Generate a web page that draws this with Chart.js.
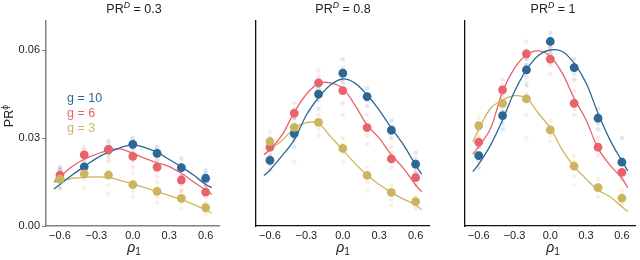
<!DOCTYPE html>
<html>
<head>
<meta charset="utf-8">
<script src="https://cdn.jsdelivr.net/npm/chart.js@4.4.1/dist/chart.umd.min.js"></script>
<style>
  html, body { margin: 0; padding: 0; background: #fff; }
  #wrap { position: relative; width: 640px; height: 260px; overflow: hidden; font-family: "Liberation Sans", Arial, sans-serif; color: #222; }
  canvas { position: absolute; top: 0; }
  .t { position: absolute; white-space: nowrap; line-height: 1; }
  .title { font-size: 12.5px; transform: translate(-50%, -50%); }
  .sup { font-size: 0.7em; position: relative; top: -0.55em; }
  .xl { font-size: 14px; transform: translate(-50%, -50%); }
  .sub { font-size: 0.72em; position: relative; top: 0.3em; }
  .leg { font-size: 12.5px; transform: translate(0, -50%); }
</style>
</head>
<body>
<div id="wrap">
  <canvas id="c1" width="224" height="260" style="left:0px"></canvas>
  <canvas id="c2" width="188" height="260" style="left:246px"></canvas>
  <canvas id="c3" width="185" height="260" style="left:455px"></canvas>

  <div class="t title" style="left:134px;top:9px">PR<span class="sup"><i>D</i></span> = 0.3</div>
  <div class="t title" style="left:343px;top:9px">PR<span class="sup"><i>D</i></span> = 0.8</div>
  <div class="t title" style="left:553px;top:9px">PR<span class="sup"><i>D</i></span> = 1</div>

  <div class="t" style="left:9px;top:116px;font-size:12.5px;transform:translate(-50%,-50%) rotate(-90deg)">PR<span class="sup">ϕ</span></div>

  <div class="t xl" style="left:134px;top:247px"><i>ρ</i><span class="sub">1</span></div>
  <div class="t xl" style="left:343px;top:247px"><i>ρ</i><span class="sub">1</span></div>
  <div class="t xl" style="left:553px;top:247px"><i>ρ</i><span class="sub">1</span></div>

  <div class="t leg" style="left:67px;top:98px;color:#2c6796">g = 10</div>
  <div class="t leg" style="left:67px;top:113px;color:#e8636b">g = 6</div>
  <div class="t leg" style="left:67px;top:128px;color:#cdb560">g = 3</div>
</div>
<script>
// ---------- data ----------
const xCats = [-0.6, -0.4, -0.2, 0, 0.2, 0.4, 0.6];
const xTickVals = [-0.6, -0.3, 0, 0.3, 0.6];
const yTickVals = [0, 0.03, 0.06];
const lineX = [-0.65, -0.6, -0.5, -0.4, -0.3, -0.2, -0.1, 0, 0.1, 0.2, 0.3, 0.4, 0.5, 0.6, 0.65];
const seriesNames = ["g = 10", "g = 6", "g = 3"];

// Panel 1: PR^D = 0.3
const p1MeanG10 = [0.0162, 0.0202, 0.0261, 0.0279, 0.0248, 0.0199, 0.0163];
const p1MeanG6  = [0.0174, 0.0243, 0.0261, 0.0238, 0.0201, 0.0157, 0.0116];
const p1MeanG3  = [0.0160, 0.0178, 0.0174, 0.0141, 0.0118, 0.0094, 0.0063];
const p1LineG10 = [0.0126, 0.0142, 0.0174, 0.0203, 0.0231, 0.0252, 0.0268, 0.0277, 0.0268, 0.0252, 0.0227, 0.0202, 0.0174, 0.0142, 0.0131];
const p1LineG6  = [0.0151, 0.0168, 0.0203, 0.0228, 0.0245, 0.0259, 0.0263, 0.0248, 0.0231, 0.0216, 0.0203, 0.0180, 0.0151, 0.0123, 0.0108];
const p1LineG3  = [0.0149, 0.0154, 0.0163, 0.0166, 0.0168, 0.0166, 0.0155, 0.0144, 0.0131, 0.0117, 0.0104, 0.0090, 0.0074, 0.0055, 0.0044];
const p1RepG10 = [[0.013,0.015,0.017,0.019,0.020],[0.017,0.019,0.021,0.022],[0.024,0.025,0.027,0.029],[0.026,0.027,0.029,0.030],[0.022,0.024,0.026,0.027],[0.017,0.019,0.021,0.023],[0.014,0.016,0.018,0.019]];
const p1RepG6  = [[0.015,0.017,0.019,0.020],[0.020,0.023,0.026,0.027],[0.022,0.025,0.027,0.028],[0.020,0.022,0.025,0.027],[0.017,0.019,0.021,0.023],[0.012,0.014,0.017,0.019],[0.010,0.011,0.013,0.014]];
const p1RepG3  = [[0.013,0.015,0.017,0.018],[0.013,0.016,0.019,0.020],[0.011,0.014,0.019,0.023],[0.010,0.012,0.015,0.018],[0.008,0.010,0.013,0.015],[0.006,0.008,0.010,0.012],[0.004,0.005,0.007,0.008]];

// Panel 2: PR^D = 0.8
const p2MeanG10 = [0.0224, 0.0315, 0.0450, 0.0522, 0.0442, 0.0327, 0.0211];
const p2MeanG6  = [0.0269, 0.0385, 0.0489, 0.0462, 0.0336, 0.0229, 0.0165];
const p2MeanG3  = [0.0288, 0.0337, 0.0354, 0.0265, 0.0173, 0.0115, 0.0083];
const p2LineG10 = [0.0172, 0.0191, 0.0240, 0.0294, 0.0379, 0.0438, 0.0482, 0.0502, 0.0488, 0.0448, 0.0396, 0.0334, 0.0277, 0.0208, 0.0177];
const p2LineG6  = [0.0243, 0.0260, 0.0311, 0.0388, 0.0450, 0.0486, 0.0489, 0.0470, 0.0413, 0.0345, 0.0300, 0.0243, 0.0197, 0.0140, 0.0117];
const p2LineG3  = [0.0243, 0.0262, 0.0292, 0.0334, 0.0353, 0.0350, 0.0305, 0.0260, 0.0214, 0.0174, 0.0142, 0.0115, 0.0092, 0.0072, 0.0055];
const p2RepG10 = [[0.019,0.021,0.024,0.026],[0.027,0.030,0.034,0.037],[0.040,0.043,0.047,0.048],[0.049,0.051,0.054,0.057],[0.041,0.043,0.045,0.047],[0.030,0.032,0.034,0.036],[0.018,0.020,0.023,0.025]];
const p2RepG6  = [[0.024,0.026,0.028,0.030],[0.034,0.037,0.040,0.042],[0.046,0.048,0.051,0.053],[0.038,0.042,0.046,0.050],[0.028,0.031,0.034,0.038],[0.020,0.022,0.025,0.027],[0.014,0.016,0.018,0.019]];
const p2RepG3  = [[0.026,0.028,0.030,0.032],[0.022,0.029,0.033,0.036],[0.031,0.033,0.036,0.038],[0.022,0.025,0.028,0.030],[0.012,0.015,0.018,0.020],[0.007,0.009,0.012,0.014],[0.006,0.007,0.009,0.010]];

// Panel 3: PR^D = 1
const p3MeanG10 = [0.0240, 0.0377, 0.0533, 0.0630, 0.0541, 0.0368, 0.0218];
const p3MeanG6  = [0.0286, 0.0465, 0.0588, 0.0570, 0.0419, 0.0269, 0.0183];
const p3MeanG3  = [0.0343, 0.0419, 0.0434, 0.0328, 0.0204, 0.0131, 0.0095];
const p3LineG10 = [0.0186, 0.0211, 0.0277, 0.0362, 0.0459, 0.0533, 0.0582, 0.0601, 0.0596, 0.0556, 0.0488, 0.0385, 0.0294, 0.0222, 0.0188];
const p3LineG6  = [0.0245, 0.0271, 0.0334, 0.0459, 0.0539, 0.0584, 0.0598, 0.0579, 0.0522, 0.0436, 0.0362, 0.0265, 0.0208, 0.0163, 0.0131];
const p3LineG3  = [0.0288, 0.0330, 0.0402, 0.0430, 0.0445, 0.0436, 0.0385, 0.0334, 0.0260, 0.0203, 0.0161, 0.0123, 0.0100, 0.0066, 0.0049];
const p3RepG10 = [[0.020,0.022,0.025,0.027],[0.033,0.035,0.039,0.042],[0.048,0.051,0.055,0.057],[0.059,0.061,0.064,0.066],[0.050,0.052,0.055,0.057],[0.033,0.035,0.038,0.040],[0.019,0.021,0.023,0.030]];
const p3RepG6  = [[0.025,0.027,0.030,0.033],[0.042,0.045,0.048,0.050],[0.055,0.057,0.060,0.063],[0.052,0.055,0.059,0.061],[0.038,0.040,0.043,0.046],[0.024,0.026,0.028,0.030],[0.016,0.018,0.019,0.021]];
const p3RepG3  = [[0.031,0.033,0.035,0.037],[0.036,0.040,0.044,0.047],[0.030,0.038,0.045,0.049],[0.029,0.031,0.034,0.036],[0.014,0.017,0.022,0.024],[0.010,0.012,0.014,0.016],[0.007,0.008,0.010,0.012]];

// ---------- styling ----------
const COLORS = ["#2c6796", "#e8636b", "#cdb560"];
const FAINT  = ["rgba(44,103,150,0.15)", "rgba(232,99,107,0.15)", "rgba(205,181,96,0.17)"];
const FONT = { family: "'Liberation Sans', Arial, sans-serif", size: 11 };

function fmtX(v) {
  const s = Math.abs(v).toFixed(1);
  return v < -1e-9 ? "\u2212" + s : s;
}

function buildPanel(id, means, lines, reps, cfg) {
  const datasets = [];
  reps.forEach((rep, si) => {
    const pts = [];
    rep.forEach((vals, xi) => vals.forEach(v => pts.push({ x: xCats[xi], y: v })));
    datasets.push({ type: 'scatter', label: seriesNames[si] + " reps", data: pts,
      pointRadius: 2.3, pointBackgroundColor: FAINT[si], pointBorderWidth: 0, order: 30 + si });
  });
  lines.forEach((ln, si) => {
    datasets.push({ type: 'line', label: seriesNames[si] + " line",
      data: lineX.map((x, i) => ({ x: x, y: ln[i] })),
      borderColor: COLORS[si], borderWidth: 1.3, pointRadius: 0, tension: 0.35,
      fill: false, order: 20 + si });
  });
  means.forEach((m, si) => {
    datasets.push({ type: 'scatter', label: seriesNames[si],
      data: xCats.map((x, i) => ({ x: x, y: m[i] })),
      pointRadius: 4.4, pointBackgroundColor: COLORS[si], pointBorderWidth: 0, order: 12 - si });
  });

  new Chart(document.getElementById(id), {
    type: 'scatter',
    data: { datasets },
    options: {
      responsive: false, animation: false,
      layout: { padding: { top: 21, right: cfg.padRight, left: 0, bottom: 0 } },
      plugins: { legend: { display: false }, tooltip: { enabled: false } },
      scales: {
        x: {
          type: 'linear', min: -0.715, max: 0.715,
          afterBuildTicks: s => { s.ticks = xTickVals.map(v => ({ value: v })); },
          ticks: { callback: v => fmtX(v), font: FONT, color: '#222', padding: 3, maxRotation: 0, autoSkip: false },
          grid: { display: false, drawTicks: false },
          border: { display: true, color: cfg.axisColor, width: cfg.axisWidth },
          afterFit: s => { s.height = 34; }
        },
        y: {
          type: 'linear', min: 0, max: 0.07,
          afterBuildTicks: s => { s.ticks = yTickVals.map(v => ({ value: v })); },
          ticks: { display: cfg.yLabels, callback: v => v.toFixed(2), font: FONT, color: '#222', padding: 2 },
          grid: { display: cfg.yLabels, drawOnChartArea: false, drawTicks: cfg.yLabels, tickLength: 4, color: cfg.axisColor, lineWidth: 1 },
          border: { display: true, color: cfg.axisColor, width: cfg.axisWidth },
          afterFit: s => { s.width = cfg.yWidth; }
        }
      }
    }
  });
}

buildPanel('c1', [p1MeanG10, p1MeanG6, p1MeanG3], [p1LineG10, p1LineG6, p1LineG3], [p1RepG10, p1RepG6, p1RepG3],
  { padRight: 2.5, yWidth: 46, yLabels: true, axisColor: '#808080', axisWidth: 1.5 });
buildPanel('c2', [p2MeanG10, p2MeanG6, p2MeanG3], [p2LineG10, p2LineG6, p2LineG3], [p2RepG10, p2RepG6, p2RepG3],
  { padRight: 2.5, yWidth: 10, yLabels: false, axisColor: '#111', axisWidth: 1.3 });
buildPanel('c3', [p3MeanG10, p3MeanG6, p3MeanG3], [p3LineG10, p3LineG6, p3LineG3], [p3RepG10, p3RepG6, p3RepG3],
  { padRight: 0, yWidth: 10, yLabels: false, axisColor: '#111', axisWidth: 1.3 });
</script>
</body>
</html>
